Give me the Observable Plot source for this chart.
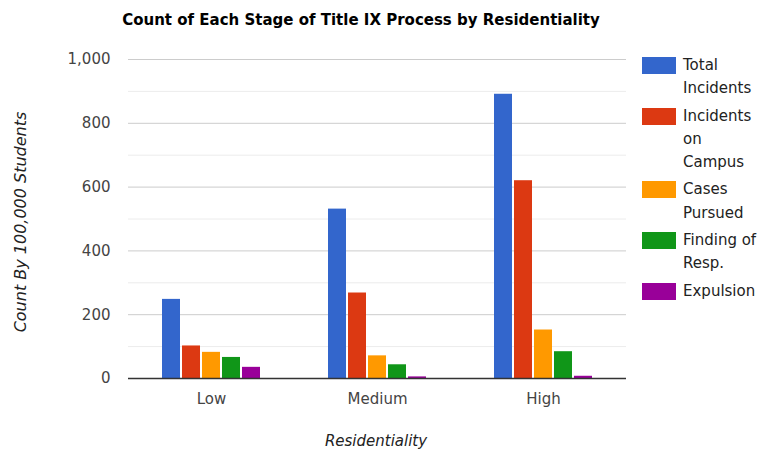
<!DOCTYPE html>
<html>
<head>
<meta charset="utf-8">
<script src="https://cdn.jsdelivr.net/npm/d3@7"></script>
<script src="https://cdn.jsdelivr.net/npm/@observablehq/plot@0.6"></script>
<style>
  html, body { margin: 0; padding: 0; background: #fff; }
  #wrap { position: relative; width: 760px; height: 450px; font-family: "DejaVu Sans", sans-serif; overflow: hidden; }
  #title { position: absolute; left: 0; top: 0; width: 722px; height: 40px; line-height: 40px; text-align: center; font-weight: bold; font-size: 15px; color: #000; }
  #chart { position: absolute; left: 0; top: 40px; }
  #ytitle { position: absolute; left: 20px; top: 222px; transform: translate(-50%, -50%) rotate(-90deg); white-space: nowrap; font-style: italic; font-size: 16px; color: #222; }
  #xtitle { position: absolute; left: 376px; top: 431px; transform: translateX(-50%); line-height: 20px; white-space: nowrap; font-style: italic; font-size: 15px; color: #222; }
  #legend { position: absolute; left: 642px; top: 54px; width: 118px; font-size: 15px; color: #222; }
  .item { display: flex; align-items: flex-start; margin-bottom: 4px; }
  .sw { width: 34px; height: 17px; margin-top: 3px; flex: none; }
  .lab { margin-left: 7px; width: 76px; line-height: 23.3px; }
</style>
</head>
<body>
<div id="wrap">
  <div id="title"></div>
  <div id="chart"></div>
  <div id="ytitle"></div>
  <div id="xtitle"></div>
  <div id="legend"></div>
</div>
<script>
const chartTitle = "Count of Each Stage of Title IX Process by Residentiality";
const yTitle = "Count By 100,000 Students";
const xTitle = "Residentiality";

const groups = ["Low", "Medium", "High"];
const series = ["Total Incidents", "Incidents on Campus", "Cases Pursued", "Finding of Resp.", "Expulsion"];
const totalIncidents    = [248, 531, 891];
const incidentsOnCampus = [102, 268, 620];
const casesPursued      = [82, 71, 152];
const findingOfResp     = [66, 43, 84];
const expulsion         = [35, 5, 7];
const colors = ["#3366cc", "#dc3912", "#ff9900", "#109618", "#990099"];
const yTicks = [0, 200, 400, 600, 800, 1000];
const yMinor = [100, 300, 500, 700, 900];

const seriesValues = [totalIncidents, incidentsOnCampus, casesPursued, findingOfResp, expulsion];
const data = groups.flatMap((g, i) => series.map((s, j) => ({group: g, series: s, value: seriesValues[j][i]})));

document.getElementById("title").textContent = chartTitle;
document.getElementById("ytitle").textContent = yTitle;
document.getElementById("xtitle").textContent = xTitle;

const legend = document.getElementById("legend");
series.forEach((s, j) => {
  const item = document.createElement("div");
  item.className = "item";
  const sw = document.createElement("div");
  sw.className = "sw";
  sw.style.background = colors[j];
  const lab = document.createElement("div");
  lab.className = "lab";
  lab.textContent = s;
  item.appendChild(sw);
  item.appendChild(lab);
  legend.appendChild(item);
});

const chart = Plot.plot({
  width: 760,
  height: 410,
  marginLeft: 128,
  marginRight: 134,
  marginTop: 19,
  marginBottom: 72,
  style: {fontFamily: "DejaVu Sans, sans-serif", fontSize: "15px", color: "#444", background: "white"},
  fx: {domain: groups, paddingInner: 0.385, paddingOuter: 0.1925},
  x: {domain: series, paddingInner: 0.08, paddingOuter: 0, axis: null},
  y: {domain: [0, 1000]},
  color: {domain: series, range: colors},
  marks: [
    Plot.ruleY(yMinor, {stroke: "#ececec", strokeWidth: 1, insetLeft: -32, insetRight: -32}),
    Plot.ruleY(yTicks.filter(d => d > 0), {stroke: "#cccccc", strokeWidth: 1, insetLeft: -32, insetRight: -32}),
    Plot.barY(data, {fx: "group", x: "series", y: "value", fill: "series"}),
    Plot.ruleY([0], {stroke: "#333", strokeWidth: 1.5, insetLeft: -32, insetRight: -32}),
    Plot.axisY({ticks: yTicks, tickFormat: d3.format(","), tickSize: 0, tickPadding: 50, label: null, fontSize: 15}),
    Plot.axisFx({anchor: "bottom", tickSize: 0, tickPadding: 15, label: null, fontSize: 15})
  ]
});
document.getElementById("chart").appendChild(chart);
</script>
</body>
</html>
